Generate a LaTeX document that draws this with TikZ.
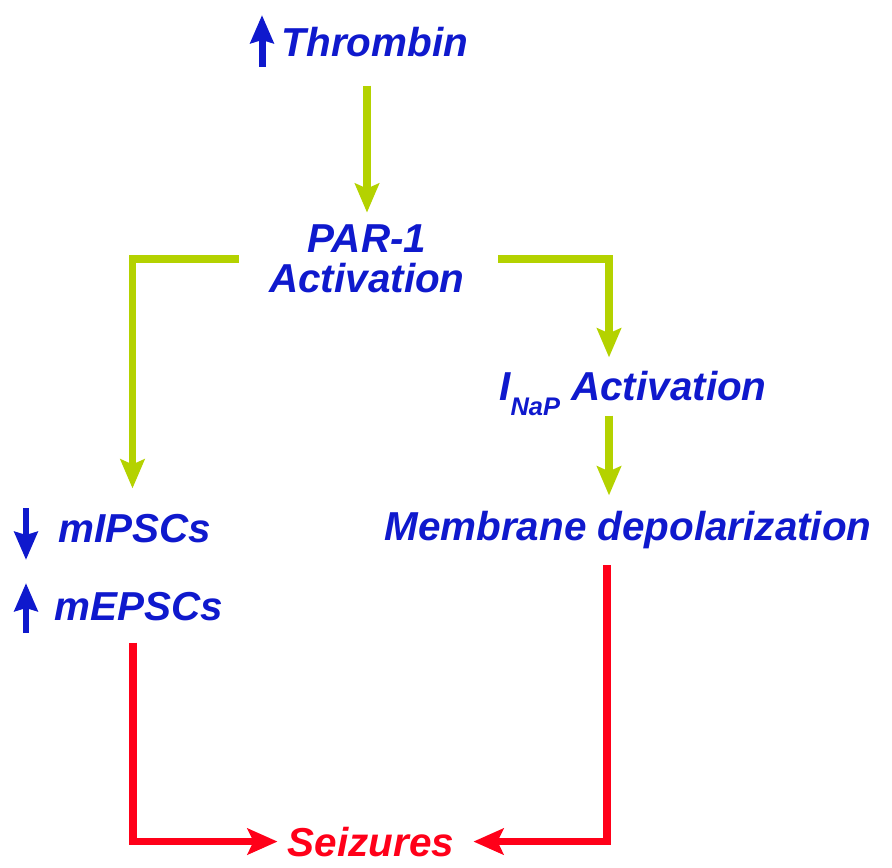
\documentclass[tikz,border=0pt]{standalone}
\usepackage{fontspec}
\setmainfont{Liberation Sans}
\usetikzlibrary{arrows.meta}
\definecolor{txtblue}{RGB}{15,25,205}
\definecolor{grnarr}{RGB}{180,210,0}
\definecolor{szred}{RGB}{255,0,25}
\begin{document}
\begin{tikzpicture}[x=0.02cm,y=-0.02cm]
		\tikzstyle{lbl} = [inner sep=0pt, text=txtblue, font=\fontsize{23}{22.7}\selectfont\bfseries\itshape]
		\tikzstyle{garr} = [grnarr, line width=0.15cm, -{Stealth[length=0.58cm,width=0.48cm,inset=0.1cm]}]
		\tikzstyle{rarr} = [szred, line width=0.15cm, -{Stealth[length=0.6cm,width=0.52cm,inset=0.12cm]}]
		\tikzstyle{ind} = [txtblue, line width=0.14cm, -{Stealth[length=0.56cm,width=0.46cm,inset=0.06cm]}]
		\useasboundingbox (0,0) rectangle (892,868);
		% labels
		\node[lbl, anchor=base] (thr) at (375,57) {Thrombin};
		\node[lbl, align=center] (par) at (367,259) {PAR-1\\Activation};
		\node[lbl, anchor=base] (ina) at (633,400) {I\raisebox{-0.3cm}{\fontsize{14.5}{14.5}\selectfont NaP} Activation};
		\node[lbl, anchor=base] (mem) at (628,540) {Membrane depolarization};
		\node[lbl, anchor=base] (mi) at (135,542) {mIPSCs};
		\node[lbl, anchor=base] (me) at (139,620) {mEPSCs};
		\node[lbl, anchor=base, text=szred] (sz) at (371,856) {Seizures};
		% up / down marks
		\draw[ind] (262,67) -- (262,15);
		\draw[ind] (26,508) -- (26,560);
		\draw[ind] (26,633) -- (26,583);
		% green pathway
		\draw[garr, shorten <=0.56cm, shorten >=0.24cm] (thr.south -| par.north) -- (par.north);
		\draw[garr, shorten >=0.5cm] ([xshift=-0.6cm]par.west) -| ([xshift=-0.05cm]mi.north);
		\draw[garr, shorten >=0.26cm] ([xshift=0.66cm]par.east) -| ([xshift=-0.48cm]ina.north);
		\draw[garr, shorten >=0.3cm] ([xshift=-0.48cm]ina.south) -- ([xshift=-0.48cm]ina.south |- mem.north);
		% red pathway
		\draw[rarr, shorten <=0.44cm, shorten >=0.2cm] ([xshift=-0.12cm]me.south) |- (sz.west);
		\draw[rarr, shorten <=0.33cm, shorten >=0.38cm] ([xshift=-0.42cm]mem.south) |- (sz.east);
\end{tikzpicture}
\end{document}
